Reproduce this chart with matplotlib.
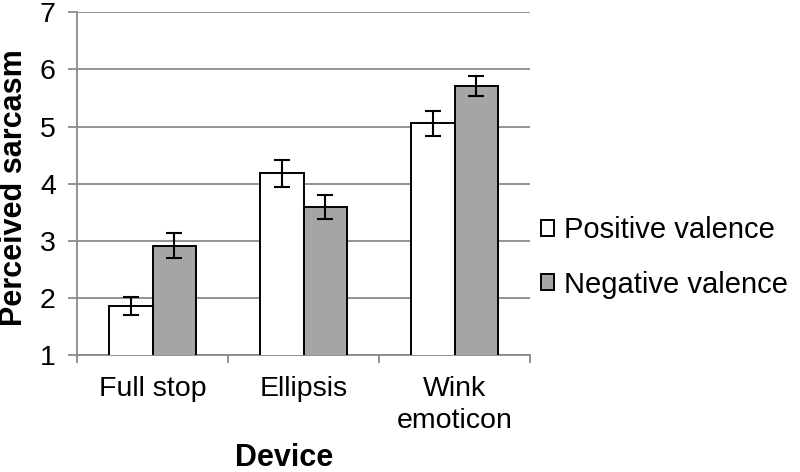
import numpy as np
from matplotlib import pyplot as plt
from matplotlib.ticker import FixedLocator

devices = ["Full stop", "Ellipsis", "Wink\nemoticon"]
positive = [1.86, 4.18, 5.06]
positive_err = [0.16, 0.235, 0.22]
negative = [2.91, 3.59, 5.71]
negative_err = [0.22, 0.215, 0.175]
y_ticks = [1, 2, 3, 4, 5, 6, 7]

plt.rcParams['font.family'] = ['Liberation Sans', 'DejaVu Sans']

grid_color = '#8a8a8a'
fig = plt.figure(figsize=(8, 4.72), dpi=100)
ax = fig.add_axes([0.0966, 0.2479, 0.566, 0.726])

x = np.arange(len(devices))
width = 0.287
err_style = dict(ecolor='black', elinewidth=1.5, capsize=5.8, capthick=1.5)

ax.bar(x - width / 2, positive, width, bottom=0, color='white', edgecolor='black',
       linewidth=1.4, label='Positive valence', zorder=3,
       yerr=positive_err, error_kw=err_style)
ax.bar(x + width / 2, negative, width, bottom=0, color='#a5a5a5', edgecolor='black',
       linewidth=1.4, label='Negative valence', zorder=3,
       yerr=negative_err, error_kw=err_style)

ax.set_ylim(1, 7)
ax.set_xlim(-0.5, len(devices) - 0.5)
ax.set_yticks(y_ticks)
ax.yaxis.grid(True, color=grid_color, linewidth=1.3, zorder=0)
ax.set_axisbelow(True)

ax.set_xticks(x)
ax.set_xticklabels(devices, fontsize=20.5, linespacing=1.3)
ax.xaxis.set_minor_locator(FixedLocator(np.arange(-0.5, len(devices), 1.0)))
ax.tick_params(axis='x', which='major', length=0, pad=15)
ax.tick_params(axis='x', which='minor', length=6, width=1.3, color=grid_color)
ax.tick_params(axis='y', length=6.5, width=1.3, color=grid_color, labelsize=20.5, pad=9)

for side in ['top', 'right']:
    ax.spines[side].set_visible(False)
for side in ['left', 'bottom']:
    ax.spines[side].set_color(grid_color)
    ax.spines[side].set_linewidth(1.3)

ax.set_ylabel("Perceived sarcasm", fontsize=22, fontweight='bold', va='center')
ax.yaxis.set_label_coords(-0.14, 0.487)
ax.set_xlabel("Device", fontsize=22, fontweight='bold', va='center')
ax.xaxis.set_label_coords(0.4566, -0.30)

fig.legend(loc='center left', bbox_to_anchor=(0.676, 0.4544), frameon=False,
           fontsize=21, handlelength=0.45, handleheight=0.45, handletextpad=0.35,
           labelspacing=0.9, borderpad=0, borderaxespad=0)

plt.savefig("out.png", dpi=100)
